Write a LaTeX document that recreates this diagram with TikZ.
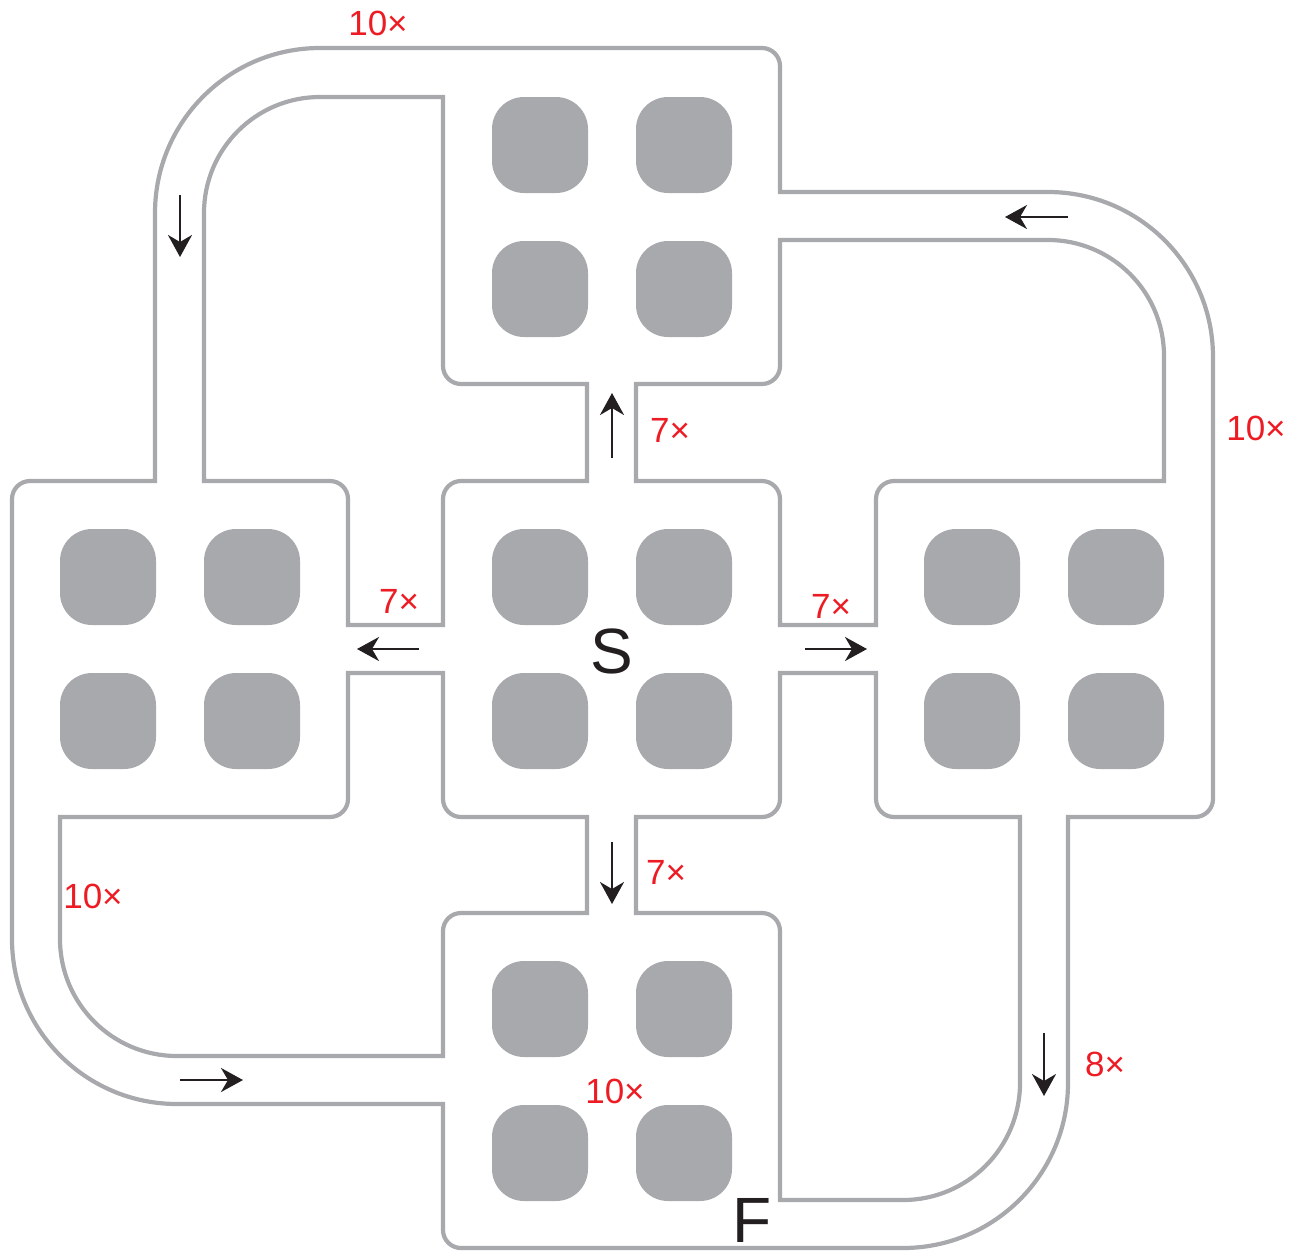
\documentclass[tikz,border=0pt]{standalone}
\usepackage{fontspec}
\setmainfont{Liberation Sans}
\usetikzlibrary{arrows.meta}
\definecolor{wallgray}{HTML}{A7A9AC}
\definecolor{tallyred}{HTML}{ED1C24}
\definecolor{inkblack}{HTML}{231F20}

\begin{document}
\begin{tikzpicture}[x=1pt, y=-1pt,
        wall/.style={draw=wallgray, line width=4.2pt},
        well/.style={fill=wallgray, rounded corners=32pt},
        flow/.style={-{Stealth[length=22pt,width=24pt,inset=7pt]}, line width=2.2pt, draw=inkblack},
        tally/.style={text=tallyred, font=\fontsize{35}{40}\selectfont, inner sep=0pt},
        letter/.style={text=inkblack, font=\fontsize{64}{70}\selectfont, inner sep=0pt}]
        \useasboundingbox (0,0) rectangle (1304,1251);
        % outer wall
        \draw[wall] (320,48) -- (762,48) arc[start angle=-90,end angle=0,radius=18]
            -- (780,192) -- (1048,192) arc[start angle=-90,end angle=0,radius=165]
            -- (1213,799) arc[start angle=0,end angle=90,radius=18]
            -- (1068,817) -- (1068,1083) arc[start angle=0,end angle=90,radius=165]
            -- (461,1248) arc[start angle=90,end angle=180,radius=18]
            -- (443,1104) -- (177,1104) arc[start angle=90,end angle=180,radius=165]
            -- (12,499) arc[start angle=180,end angle=270,radius=18]
            -- (155,481) -- (155,213) arc[start angle=180,end angle=270,radius=165]
            -- cycle;
        % inner walls
        \draw[wall] (443,97) -- (320,97) arc[start angle=270,end angle=180,radius=116]
            -- (204,481) -- (330,481) arc[start angle=270,end angle=360,radius=18]
            -- (348,625) -- (443,625) -- (443,499) arc[start angle=180,end angle=270,radius=18]
            -- (587,481) -- (587,384) -- (461,384) arc[start angle=90,end angle=180,radius=18]
            -- cycle;
        \draw[wall] (636,384) -- (762,384) arc[start angle=90,end angle=0,radius=18]
            -- (780,240) -- (1048,240) arc[start angle=270,end angle=360,radius=116]
            -- (1164,481) -- (894,481) arc[start angle=270,end angle=180,radius=18]
            -- (876,625) -- (780,625) -- (780,499) arc[start angle=0,end angle=-90,radius=18]
            -- (636,481) -- cycle;
        \draw[wall] (780,673) -- (876,673) -- (876,799) arc[start angle=180,end angle=90,radius=18]
            -- (1020,817) -- (1020,1083) arc[start angle=0,end angle=90,radius=117]
            -- (780,1200) -- (780,931) arc[start angle=0,end angle=-90,radius=18]
            -- (636,913) -- (636,817) -- (762,817) arc[start angle=90,end angle=0,radius=18]
            -- cycle;
        \draw[wall] (443,673) -- (348,673) -- (348,799) arc[start angle=0,end angle=90,radius=18]
            -- (60,817) -- (60,939) arc[start angle=180,end angle=90,radius=117]
            -- (443,1056) -- (443,931) arc[start angle=180,end angle=270,radius=18]
            -- (587,913) -- (587,817) -- (461,817) arc[start angle=90,end angle=180,radius=18]
            -- cycle;
        % wells, four per chamber
        \foreach \cx/\cy in {612/217, 180/649, 612/649, 1044/649, 612/1081}
            \foreach \dx in {-72,72}
                \foreach \dy in {-72,72}
                    \fill[well] ({\cx+\dx-48},{\cy+\dy-48}) rectangle ++(96,96);
        % flow arrows
        \coordinate (tlA) at (180,195);   \coordinate (tlB) at (180,257);
        \coordinate (trA) at (1068,217);  \coordinate (trB) at (1005,217);
        \coordinate (upA) at (612,458);   \coordinate (upB) at (612,393);
        \coordinate (lfA) at (419,649);   \coordinate (lfB) at (357,649);
        \coordinate (rtA) at (805,649);   \coordinate (rtB) at (867,649);
        \coordinate (dnA) at (612,842);   \coordinate (dnB) at (612,904);
        \coordinate (blA) at (180,1080);  \coordinate (blB) at (243,1080);
        \coordinate (brA) at (1044,1033); \coordinate (brB) at (1044,1096);
        \draw[flow] (tlA) -- (tlB);
        \draw[flow] (trA) -- (trB);
        \draw[flow] (upA) -- (upB);
        \draw[flow] (lfA) -- (lfB);
        \draw[flow] (rtA) -- (rtB);
        \draw[flow] (dnA) -- (dnB);
        \draw[flow] (blA) -- (blB);
        \draw[flow] (brA) -- (brB);
        % counts
        \node[tally] (nTop) at (378,23) {10×};
        \node[tally] (nUp) at (670,430) {7×};
        \node[tally] (nRight) at (1256,428) {10×};
        \node[tally] (nLeft) at (399,601) {7×};
        \node[tally] (nMid) at (831,606) {7×};
        \node[tally] (nLow) at (93,896) {10×};
        \node[tally] (nDown) at (666,872) {7×};
        \node[tally] (nEight) at (1105,1064) {8×};
        \node[tally] (nEnd) at (615,1091) {10×};
        % start and finish
        \node[letter] (start) at (612,651) {S};
        \node[letter] (finish) at (752,1220) {F};
\end{tikzpicture}
\end{document}
